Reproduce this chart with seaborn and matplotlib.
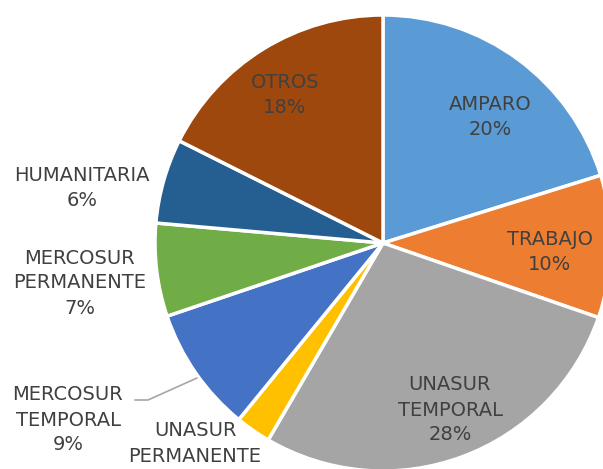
import matplotlib
matplotlib.use("Agg")
import matplotlib.pyplot as plt
import seaborn as sns

sns.set_theme(style="white")
plt.rcParams['font.family'] = ['DejaVu Sans']

categories = ["AMPARO", "TRABAJO", "UNASUR\nTEMPORAL", "UNASUR\nPERMANENTE",
              "MERCOSUR\nTEMPORAL", "MERCOSUR\nPERMANENTE", "HUMANITARIA", "OTROS"]
values = [20.2, 10.1, 28.1, 2.5, 8.9, 6.6, 6.0, 17.6]
colors = ["#5B9BD5", "#ED7D31", "#A5A5A5", "#FFC000",
          "#4472C4", "#70AD47", "#255E91", "#9E480E"]
pct_labels = ["20%", "10%", "28%", "2%", "9%", "7%", "6%", "18%"]

W, H = 603, 469
fig = plt.figure(figsize=(W / 100, H / 100), dpi=100)
cx, cy, R = 383, 243, 228
ax = fig.add_axes([(cx - R) / W, (H - cy - R) / H, 2 * R / W, 2 * R / H])

wedges, _ = ax.pie(values, colors=colors, startangle=90, counterclock=False,
                   radius=1.0, wedgeprops=dict(edgecolor="white", linewidth=2.5),
                   normalize=True)
ax.set_xlim(-1, 1)
ax.set_ylim(-1, 1)
ax.set_aspect("equal")
ax.axis("off")
for w in wedges:
    w.set_clip_on(False)

# label centers in pixel coordinates
label_pos = [(490, 117), (550, 252), (450, 410), (195, 456),
             (68, 420), (80, 283), (82, 188), (285, 95)]

def to_data(px, py):
    return ((px - cx) / R, (cy - py) / R)

for cat, pct, (px, py) in zip(categories, pct_labels, label_pos):
    x, y = to_data(px, py)
    ax.text(x, y, f"{cat}\n{pct}", ha="center", va="center", fontsize=14,
            color="#404040", linespacing=1.4, clip_on=False)

# leader line for MERCOSUR TEMPORAL
p1 = to_data(135, 400)
p2 = to_data(148, 400)
p3 = to_data(197, 378)
ax.plot([p1[0], p2[0], p3[0]], [p1[1], p2[1], p3[1]], color="#A6A6A6",
        linewidth=1.2, clip_on=False)

fig.savefig("out.png", dpi=100)
